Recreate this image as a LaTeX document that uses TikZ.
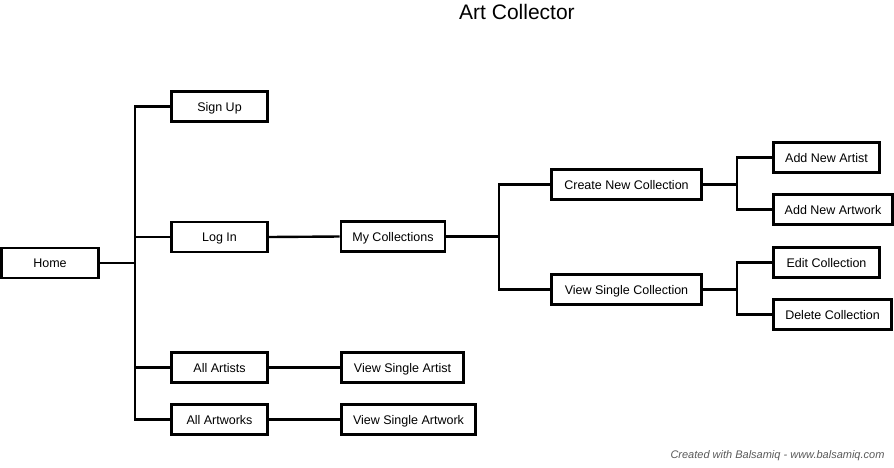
\documentclass[tikz,border=0pt]{standalone}
\usepackage{fontspec}
\setmainfont{Liberation Sans}
\begin{document}
\begin{tikzpicture}[x=1pt,y=-1pt,
  box/.style={draw=black,line width=2.6pt,fill=white,inner sep=0pt,minimum height=30pt,text height=9pt,text depth=0pt,font=\fontsize{12.5}{14}\selectfont},
  conn/.style={line width=2.4pt}]
\useasboundingbox (0,0) rectangle (894,467);
\coordinate (t1) at (135,263);
\coordinate (t2) at (499,236.5);
\coordinate (t3) at (737,184.5);
\coordinate (t4) at (737,289.5);
\node[box,minimum width=97pt] (home) at (50,263) {Home};
\node[box,minimum width=96pt] (su) at (219.5,106.5) {Sign Up};
\node[box,minimum width=96pt] (li) at (219.5,237) {Log In};
\node[box,minimum width=96pt] (aa) at (219.5,367.5) {All Artists};
\node[box,minimum width=96pt] (aw) at (219.5,419.5) {All Artworks};
\node[box,minimum width=104pt] (mc) at (393,236.5) {My Collections};
\node[box,minimum width=122pt] (vsa) at (402.5,367.5) {View Single Artist};
\node[box,minimum width=134pt] (vsw) at (408.5,419.5) {View Single Artwork};
\node[box,minimum width=150pt] (cnc) at (626.5,184.5) {Create New Collection};
\node[box,minimum width=150pt] (vsc) at (626.5,289.5) {View Single Collection};
\node[box,minimum width=106pt] (ana) at (826.5,157.5) {Add New Artist};
\node[box,minimum width=119pt] (anw) at (833,209.5) {Add New Artwork};
\node[box,minimum width=106pt] (ec) at (826.5,262.5) {Edit Collection};
\node[box,minimum width=118pt] (dc) at (832.5,314.5) {Delete Collection};
\draw[conn] (home.east) -- (t1);
\draw[conn] (su.west) -| (t1);
\draw[conn] (li.west) -| (t1);
\draw[conn] (aa.west) -| (t1);
\draw[conn] (aw.west) -| (t1);
\draw[conn] (li.east) -- (mc.west);
\draw[conn] (aa.east) -- (vsa.west);
\draw[conn] (aw.east) -- (vsw.west);
\draw[conn] (mc.east) -- (t2);
\draw[conn] (cnc.west) -| (t2);
\draw[conn] (vsc.west) -| (t2);
\draw[conn] (cnc.east) -- (t3);
\draw[conn] (ana.west) -| (t3);
\draw[conn] (anw.west) -| (t3);
\draw[conn] (vsc.east) -- (t4);
\draw[conn] (ec.west) -| (t4);
\draw[conn] (dc.west) -| (t4);
\node[font=\fontsize{21}{24}\selectfont] (title) at (517,12) {Art Collector};
\node[anchor=east,text=black!65,font=\itshape\fontsize{11}{13}\selectfont] (foot) at (888,456) {Created with Balsamiq - www.balsamiq.com};
\end{tikzpicture}
\end{document}
